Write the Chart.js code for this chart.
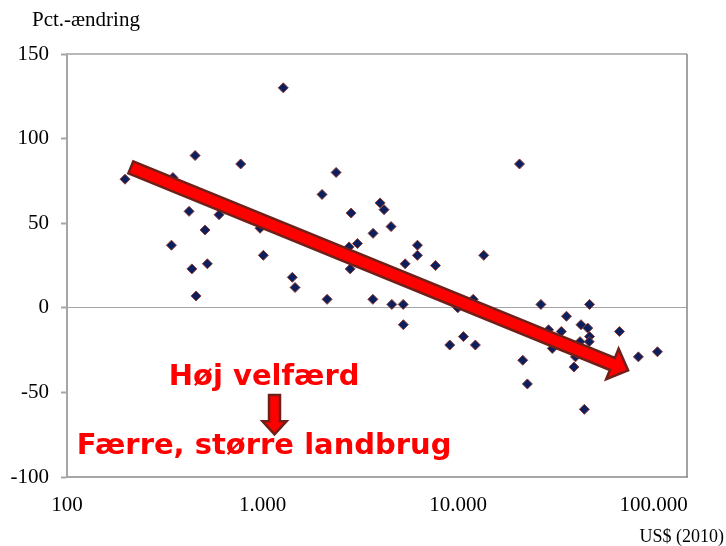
<!DOCTYPE html>
<html>
<head>
<meta charset="utf-8">
<script src="https://cdn.jsdelivr.net/npm/chart.js@4.4.1/dist/chart.umd.min.js"></script>
<style>
  html, body { margin: 0; padding: 0; background: #fff; }
</style>
</head>
<body>
<canvas id="myChart" width="726" height="546"></canvas>
<script>
// BNP pr. indbygger (US$ 2010) og pct.-ændring
var gdp = [198, 348, 452, 773, 342, 421, 508, 599, 1009, 971,
           1276, 435, 522, 457, 1419, 1466, 2138, 2014, 2377, 2836,
           3055, 2806, 2768, 3664, 4581, 5237, 5248, 5357, 6194, 6194,
           3990, 4180, 4540, 3673, 20600, 7656, 13520, 9060, 10640, 12250,
           9960, 11940, 26500, 35800, 47000, 42500, 46000, 47000, 46800, 42000,
           33700, 29000, 30300, 66800, 83500, 104500, 21400, 22600, 39100, 44200,
           39800];
var change = [76, 77, 90, 85, 37, 57, 46, 55, 31, 47,
              130, 23, 26, 7, 18, 12, 5, 67, 80, 56,
              38, 23, 36, 5, 2, 2, -10, 26, 37, 31,
              62, 58, 48, 44, 85, 25, 31, -22, -17, -22,
              0, 5, 2, -5, 2, -10, -12, -17, -20, -20,
              -14, -13, -24, -14, -29, -26, -31, -45, -35, -60,
              -29];
var xTicks = [100, 1000, 10000, 100000];
var yTicks = [-100, -50, 0, 50, 100, 150];

var points = [];
for (var i = 0; i < gdp.length; i++) {
    points.push({x: gdp[i], y: change[i]});
}

function fmt(v) {
    return String(v).replace(/\B(?=(\d{3})+(?!\d))/g, '.');
}

// block arrow, from (x0,y0) to tip (x1,y1)
function blockArrow(ctx, x0, y0, x1, y1, shaft, headW, headL) {
    var len = Math.sqrt((x1 - x0) * (x1 - x0) + (y1 - y0) * (y1 - y0));
    ctx.save();
    ctx.translate(x0, y0);
    ctx.rotate(Math.atan2(y1 - y0, x1 - x0));
    ctx.beginPath();
    ctx.moveTo(0, -shaft / 2);
    ctx.lineTo(len - headL, -shaft / 2);
    ctx.lineTo(len - headL, -headW / 2);
    ctx.lineTo(len, 0);
    ctx.lineTo(len - headL, headW / 2);
    ctx.lineTo(len - headL, shaft / 2);
    ctx.lineTo(0, shaft / 2);
    ctx.closePath();
    ctx.fillStyle = '#ff0000';
    ctx.fill();
    ctx.lineWidth = 2.5;
    ctx.lineJoin = 'miter';
    ctx.strokeStyle = '#6e2019';
    ctx.stroke();
    ctx.restore();
}

var overlay = {
    id: 'overlay',
    beforeDatasetsDraw: function (chart) {
        var ctx = chart.ctx, a = chart.chartArea;
        ctx.save();
        ctx.lineWidth = 2;
        ctx.strokeStyle = '#b8b8b8';
        ctx.beginPath();
        ctx.moveTo(a.left, a.top);
        ctx.lineTo(a.right, a.top);
        ctx.stroke();
        ctx.strokeStyle = '#858585';
        ctx.lineWidth = 1.5;
        ctx.beginPath();
        ctx.moveTo(a.right, a.top);
        ctx.lineTo(a.right, a.bottom);
        ctx.stroke();
        ctx.restore();
    },
    afterDatasetsDraw: function (chart) {
        var ctx = chart.ctx, sx = chart.scales.x, sy = chart.scales.y;
        blockArrow(ctx, sx.getPixelForValue(212), sy.getPixelForValue(83),
                   sx.getPixelForValue(74000), sy.getPixelForValue(-37), 13, 33, 17);
        var ax = sx.getPixelForValue(1151);
        blockArrow(ctx, ax, sy.getPixelForValue(-51.6), ax, sy.getPixelForValue(-74.8), 11, 24, 13);

        ctx.save();
        ctx.fillStyle = '#ff0000';
        ctx.font = 'bold 29px "DejaVu Sans"';
        ctx.textAlign = 'center';
        ctx.textBaseline = 'alphabetic';
        var tx = sx.getPixelForValue(1019);
        ctx.fillText('Høj velfærd', tx, sy.getPixelForValue(-45.5));
        ctx.fillText('Færre, større landbrug', tx, sy.getPixelForValue(-86.5));

        ctx.fillStyle = '#000';
        ctx.font = '21px "Liberation Serif"';
        ctx.textAlign = 'left';
        ctx.fillText('Pct.-ændring', 32, 26);
        ctx.font = '18px "Liberation Serif"';
        ctx.textAlign = 'right';
        ctx.fillText('US$ (2010)', 724, 542);
        ctx.restore();
    }
};

new Chart(document.getElementById('myChart'), {
    type: 'scatter',
    data: {
        datasets: [{
            label: 'Lande',
            data: points,
            pointStyle: 'rectRot',
            pointRadius: 5,
            pointBackgroundColor: '#0b1f5e',
            pointBorderColor: '#8c3a30',
            pointBorderWidth: 1
        }]
    },
    plugins: [overlay],
    options: {
        responsive: false,
        animation: false,
        layout: {padding: {top: 54, right: 39, left: 0, bottom: 0}},
        plugins: {
            legend: {display: false},
            tooltip: {enabled: false}
        },
        scales: {
            x: {
                type: 'logarithmic',
                min: 100,
                max: 148000,
                afterBuildTicks: function (scale) {
                    scale.ticks = xTicks.map(function (v) { return {value: v}; });
                },
                afterFit: function (scale) { scale.height = 69; },
                grid: {display: false, drawTicks: false},
                border: {display: true, color: '#a6a6a6', width: 2},
                ticks: {
                    padding: 16,
                    color: '#000',
                    maxRotation: 0,
                    autoSkip: false,
                    font: {family: '"Liberation Serif"', size: 21},
                    callback: function (v) { return fmt(v); }
                }
            },
            y: {
                min: -100,
                max: 150,
                afterBuildTicks: function (scale) {
                    scale.ticks = yTicks.map(function (v) { return {value: v}; });
                },
                afterFit: function (scale) { scale.width = 67; },
                grid: {
                    color: function (c) { return c.tick && c.tick.value === 0 ? '#a6a6a6' : 'rgba(0,0,0,0)'; },
                    drawTicks: true,
                    tickLength: 6,
                    tickColor: '#a6a6a6',
                    tickWidth: 2
                },
                border: {display: true, color: '#a6a6a6', width: 2},
                ticks: {
                    padding: 12,
                    color: '#000',
                    font: {family: '"Liberation Serif"', size: 21}
                }
            }
        }
    }
});
</script>
</body>
</html>
